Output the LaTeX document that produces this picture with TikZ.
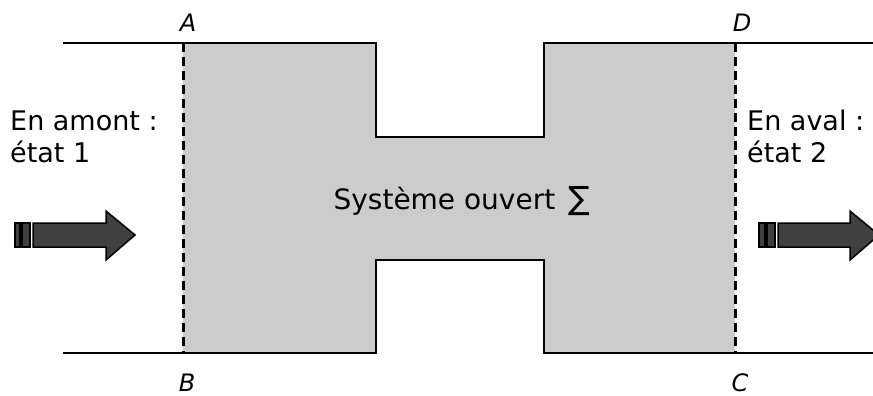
\documentclass[tikz,border=0pt]{standalone}
\usepackage{fontspec}
\setmainfont{DejaVu Sans}
\begin{document}
\begin{tikzpicture}[x=1pt,y=-1pt,
  wall/.style={line width=2.6pt},
  section/.style={line width=3pt,dash pattern=on 9pt off 5pt},
  sysfill/.style={fill=black!20},
  flow/.style={draw=black,line width=1.5pt,fill=black!75,line join=miter},
  lbl/.style={font=\fontsize{24}{28}\selectfont\itshape,inner sep=0pt,anchor=base,text depth=0pt},
  txt/.style={font=\fontsize{27}{32}\selectfont,inner sep=0pt,anchor=base west}]
\useasboundingbox (0,0) rectangle (873,396);
\coordinate (A) at (183,43);
\coordinate (B) at (183,353);
\coordinate (C) at (735,353);
\coordinate (D) at (735,43);
\fill[sysfill] (A) -- (376,43) -- (376,137) -- (544,137) -- (544,43) -- (D) -- (C) -- (544,353) -- (544,260) -- (376,260) -- (376,353) -- (B) -- cycle;
\draw[wall] (63,43) -| (376,137) -| (544,43) -- (873,43);
\draw[wall] (63,353) -| (376,260) -| (544,353) -- (873,353);
\draw[section] (A) -- (B);
\draw[section] (D) -- (C);
\node[lbl] (la) at (188,32) {A};
\node[lbl] (ld) at (742,32) {D};
\node[lbl] (lb) at (187,391) {B};
\node[lbl] (lc) at (740,391) {C};
\node[txt] (am1) at (10,130) {En amont :};
\node[txt] (am2) at (10,162) {état 1};
\node[txt] (av1) at (747,130) {En aval :};
\node[txt] (av2) at (747,162) {état 2};
\node[font=\fontsize{28}{32}\selectfont,inner sep=0pt,anchor=base] (sys) at (462,209) {Système ouvert \,{\fontsize{32}{32}\selectfont ∑}};
% left arrow
\draw[flow] (15,223) rectangle (20,247);
\draw[flow] (22,223) rectangle (30,247);
\draw[flow] (33,223) -- (106,223) -- (106,211) -- (135,235) -- (106,260) -- (106,247) -- (33,247) -- cycle;
% right arrow
\draw[flow] (759,223) rectangle (765,247);
\draw[flow] (767,223) rectangle (775,247);
\draw[flow] (778,223) -- (850,223) -- (850,211) -- (879,235) -- (850,260) -- (850,247) -- (778,247) -- cycle;
\end{tikzpicture}
\end{document}
